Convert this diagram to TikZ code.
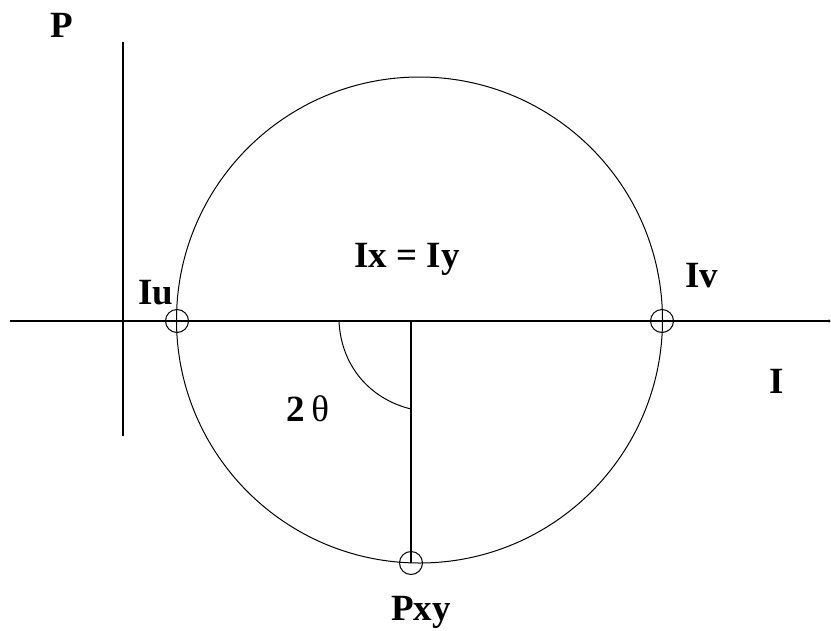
\documentclass[tikz,border=0pt]{standalone}
\usepackage{fontspec}
\setmainfont{Liberation Serif}
\begin{document}
\begin{tikzpicture}[x=1pt,y=-1pt,
  axis/.style={line width=1.4pt},
  thin line/.style={line width=1pt},
  lbl/.style={font=\fontsize{37}{42}\selectfont\bfseries, anchor=base, inner sep=0pt},
  markc/.style={circle, draw, line width=1pt, minimum size=23pt, inner sep=0pt}]
\useasboundingbox (0,0) rectangle (831,630);
% axes
\coordinate (hl) at (10,321);
\coordinate (hr) at (829,321);
\coordinate (vt) at (123,42);
\coordinate (vb) at (123,436);
\draw[axis] (hl) -- (hr);
\fill (hr) circle (1.6pt);
\draw[axis] (vt) -- (vb);
% big circle
\node[circle, draw, thin line, minimum size=486pt, inner sep=0pt] (C) at (419.5,320) {};
% marks
\node[markc] (iu) at (177,321) {};
\node[markc] (iv) at (662,321) {};
\node[markc] (pxy) at (411,563) {};
% radius and angle arc
\coordinate (O) at (411,321);
\draw[axis] (O) -- (pxy.center);
\coordinate (a1) at (339,321);
\coordinate (a2) at (411,409);
\draw[thin line] (a1) .. controls (341,366) and (370,399) .. (a2);
% labels
\node[lbl] (lP) at (62,37) {P};
\node[lbl] (lIu) at (156,304) {Iu};
\node[lbl] (lIv) at (702,287) {Iv};
\node[lbl] (lI) at (777,393) {I};
\node[lbl] (lIxy) at (407,267) {Ix = Iy};
\node[lbl] (lPxy) at (421,620) {Pxy};
\node[lbl] (l2t) at (308,421) {2\,{\mdseries θ}};
\end{tikzpicture}
\end{document}
